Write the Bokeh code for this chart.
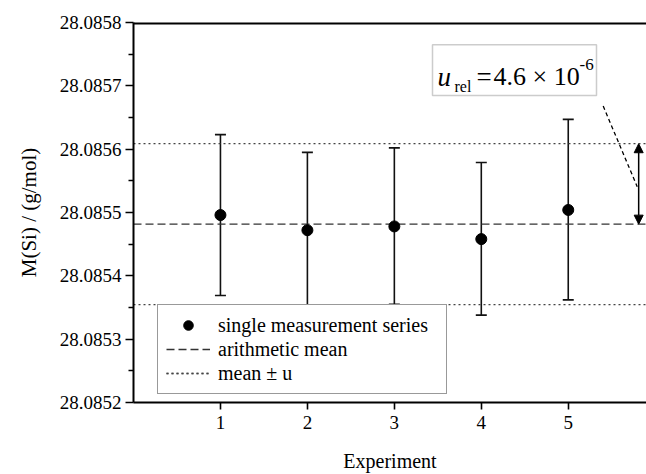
from bokeh.plotting import figure
from bokeh.models import (Whisker, TeeHead, FixedTicker, PrintfTickFormatter, Legend, LegendItem,
                          Label, BoxAnnotation, Arrow, NormalHead, Span, Range1d, ColumnDataSource)
from bokeh.embed import file_html
from bokeh.resources import INLINE

# ---- data ----
experiments = [1, 2, 3, 4, 5]
molar_mass = [28.085496, 28.085472, 28.085478, 28.085458, 28.085504]
err_upper = [28.085623, 28.085595, 28.085602, 28.085579, 28.085647]
err_lower = [28.085369, 28.085351, 28.085355, 28.085338, 28.085362]
mean_value = 28.0854816
u_value = 0.000127
y_ticks = [28.0852, 28.0853, 28.0854, 28.0855, 28.0856, 28.0857, 28.0858]
y_minor = [28.08525, 28.08535, 28.08545, 28.08555, 28.08565, 28.08575]
x_ticks = [1, 2, 3, 4, 5]

X0, X1 = 0.0, 5.9
Y0, Y1 = 28.0852, 28.0858

# geometry of the frame in picture pixels (for annotation placement)
FL, FT, FW, FH = 133.0, 22.0, 513.0, 385.0
def dx(px):
    return X0 + (px - FL) / FW * (X1 - X0)
def dy(py):
    return Y1 - (py - FT) / FH * (Y1 - Y0)

SERIF = "Liberation Serif"

p = figure(width=646, height=474, output_backend="svg", toolbar_location=None,
           x_range=Range1d(X0, X1), y_range=Range1d(Y0, Y1),
           min_border_left=133, min_border_right=0, min_border_top=22, min_border_bottom=67)
p.outline_line_color = None
p.xgrid.visible = False
p.ygrid.visible = False
p.background_fill_color = "white"

# axes
p.yaxis.ticker = FixedTicker(ticks=y_ticks, minor_ticks=y_minor)
p.yaxis.formatter = PrintfTickFormatter(format="%.4f")
p.xaxis.ticker = FixedTicker(ticks=x_ticks, minor_ticks=[])
for ax in (p.xaxis, p.yaxis):
    ax.axis_line_width = 2
    ax.axis_line_color = "black"
    ax.major_tick_line_width = 1.6
    ax.minor_tick_line_width = 1.6
    ax.major_tick_in = 0
    ax.minor_tick_in = 0
    ax.major_label_text_font = SERIF
    ax.major_label_text_font_size = "19px"
    ax.major_label_text_color = "black"
    ax.axis_label_text_font = SERIF
    ax.axis_label_text_font_style = "normal"
    ax.axis_label_text_color = "black"
p.yaxis.major_tick_out = 8
p.yaxis.minor_tick_out = 5
p.yaxis.major_label_standoff = 4
p.yaxis.axis_label = "M(Si) / (g/mol)"
p.yaxis.axis_label_text_font_size = "21px"
p.yaxis.axis_label_standoff = 16
p.xaxis.major_tick_out = 7
p.xaxis.major_label_standoff = 6
p.xaxis.axis_label = "Experiment"
p.xaxis.axis_label_text_font_size = "20px"
p.xaxis.axis_label_standoff = 18

# top border
p.add_layout(Span(location=Y1, dimension="width", line_color="black", line_width=4))

# reference lines
xs_line = [X0, X1]
mean_r = p.line(xs_line, [mean_value, mean_value], line_color="#333333", line_width=1.3, line_dash="8 4")
up_r = p.line(xs_line, [mean_value + u_value] * 2, line_color="#444444", line_width=1.3, line_dash="2 3")
lo_r = p.line(xs_line, [mean_value - u_value] * 2, line_color="#444444", line_width=1.3, line_dash="2 3")

# error bars and points
src = ColumnDataSource(dict(x=experiments, y=molar_mass, upper=err_upper, lower=err_lower))
wh = Whisker(source=src, base="x", upper="upper", lower="lower", line_color="#111111", line_width=1.6,
             upper_head=TeeHead(size=11, line_color="#111111", line_width=1.6),
             lower_head=TeeHead(size=11, line_color="#111111", line_width=1.6))
p.add_layout(wh)
pts = p.scatter("x", "y", source=src, size=11, color="black")

# legend
legend = Legend(items=[LegendItem(label="single measurement series", renderers=[pts]),
                       LegendItem(label="arithmetic mean", renderers=[mean_r]),
                       LegendItem(label="mean \u00b1 u", renderers=[up_r, lo_r])],
                location=(24, 8), margin=0, padding=8, spacing=0,
                glyph_width=44, glyph_height=24, label_height=24, label_standoff=8, label_width=220,
                label_text_font=SERIF, label_text_font_size="20px", label_text_color="black",
                border_line_color="#333333", border_line_width=1.2,
                background_fill_color="white", background_fill_alpha=1.0)
p.add_layout(legend, "center")

# annotation: u_rel box, leader and double arrow
p.add_layout(BoxAnnotation(left=dx(432), right=dx(596), top=dy(44.5), bottom=dy(96),
                           fill_color="white", fill_alpha=1.0, line_color="#555555", line_width=1.5))
txt = [("u", 437, 77, "27px", "italic"), ("rel", 454, 87, "16px", "normal"),
       ("=", 476, 77, "27px", "normal"), ("4.6 \u00d7 10", 493, 77, "26px", "normal"),
       ("-6", 579, 65, "17px", "normal")]
for t, px, py, fs, st in txt:
    p.add_layout(Label(x=dx(px), y=dy(py), text=t, text_font=SERIF, text_font_size=fs,
                       text_font_style=st, text_align="left", text_baseline="alphabetic",
                       text_color="black"))
p.line([dx(602.7), dx(636.7)], [dy(106.7), dy(188.3)], line_color="black", line_width=1.3, line_dash="4 3")
arrow_x = 5.81
p.add_layout(Arrow(x_start=arrow_x, y_start=mean_value, x_end=arrow_x, y_end=mean_value + u_value,
                   line_color="black", line_width=1.5,
                   start=NormalHead(size=9, fill_color="black", line_color="black"),
                   end=NormalHead(size=9, fill_color="black", line_color="black")))

open("out.html", "w").write(file_html(p, INLINE))
